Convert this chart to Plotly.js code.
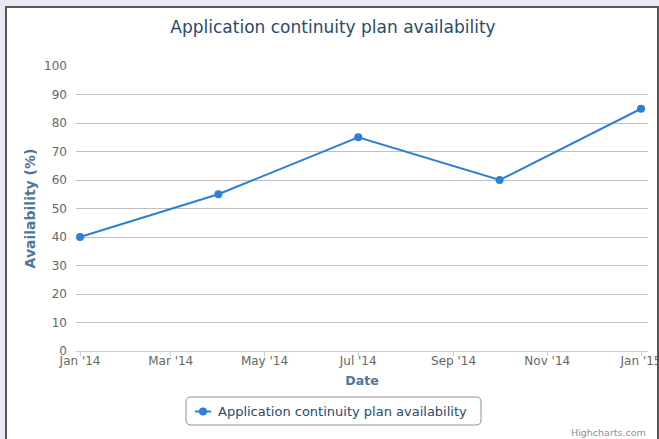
<!DOCTYPE html>
<html>
<head>
<meta charset="utf-8">
<script src="https://cdn.plot.ly/plotly-3.0.1.min.js"></script>
<style>
  html, body { margin: 0; padding: 0; background: #e9e9f3; overflow: hidden; }
  #frame { position: absolute; left: 5px; top: 6px; width: 650px; height: 480px;
           border: 2px solid #555; border-bottom: none; background: #fff; overflow: hidden; }
  #chart { position: absolute; left: -7px; top: -8px; width: 700px; height: 439px; }
</style>
</head>
<body>
<div id="frame"><div id="chart"></div></div>
<script>
// ---- data ----
const dates = ['2014-01-01', '2014-04-01', '2014-07-01', '2014-10-01', '2015-01-01'];
const availability = [40, 55, 75, 60, 85];
const seriesName = 'Application continuity plan availability';
const chartTitle = 'Application continuity plan availability';
const xTitle = 'Date';
const yTitle = 'Availability (%)';
const yTicks = [0, 10, 20, 30, 40, 50, 60, 70, 80, 90, 100];
const creditText = 'Highcharts.com';

// ---- layout geometry (pixels in the 700x439 plot div) ----
const W = 700, H = 439;
const L = 76, R = 648, T = 66, B = 351;
const pw = R - L, ph = B - T;
const px2x = p => (p - L) / pw;
const px2y = p => (B - p) / ph;

function roundRect(x0, y0, x1, y1, r) {
  const X = px2x, Y = px2y;
  return 'M' + X(x0 + r) + ',' + Y(y0) +
    ' L' + X(x1 - r) + ',' + Y(y0) +
    ' Q' + X(x1) + ',' + Y(y0) + ' ' + X(x1) + ',' + Y(y0 + r) +
    ' L' + X(x1) + ',' + Y(y1 - r) +
    ' Q' + X(x1) + ',' + Y(y1) + ' ' + X(x1 - r) + ',' + Y(y1) +
    ' L' + X(x0 + r) + ',' + Y(y1) +
    ' Q' + X(x0) + ',' + Y(y1) + ' ' + X(x0) + ',' + Y(y1 - r) +
    ' L' + X(x0) + ',' + Y(y0 + r) +
    ' Q' + X(x0) + ',' + Y(y0) + ' ' + X(x0 + r) + ',' + Y(y0) + ' Z';
}

const font = 'DejaVu Sans, Verdana, sans-serif';
const blue = '#2f7ed8';

const trace = {
  x: dates, y: availability, name: seriesName,
  type: 'scatter', mode: 'lines+markers',
  line: { color: blue, width: 2 },
  marker: { color: blue, size: 8 },
  showlegend: false
};

// legend (drawn as a Highcharts-style rounded box)
const legY = 411.5;
const legendShapes = [
  { type: 'path', xref: 'paper', yref: 'paper', path: roundRect(186, 397, 481, 425, 5),
    line: { color: '#909090', width: 1 }, fillcolor: 'rgba(0,0,0,0)' },
  { type: 'line', xref: 'paper', yref: 'paper', x0: px2x(195), x1: px2x(211), y0: px2y(legY), y1: px2y(legY),
    line: { color: blue, width: 2 } },
  { type: 'circle', xref: 'paper', yref: 'paper', x0: px2x(199), x1: px2x(207), y0: px2y(legY - 4), y1: px2y(legY + 4),
    line: { color: blue, width: 0 }, fillcolor: blue }
];

const layout = {
  width: W, height: H,
  margin: { l: L, r: W - R, t: T, b: H - B, pad: 0 },
  paper_bgcolor: 'rgba(0,0,0,0)', plot_bgcolor: 'rgba(0,0,0,0)',
  font: { family: font, color: '#666', size: 12 },
  title: { text: chartTitle, font: { family: font, size: 17, color: '#274b6d' },
           x: 333 / W, xref: 'container', xanchor: 'center', y: 1 - 27 / H, yref: 'container', yanchor: 'middle' },
  xaxis: {
    type: 'date',
    range: ['2013-12-29 09:00', '2015-01-05 13:00'],
    tickmode: 'linear', tick0: '2014-01-01', dtick: 'M2',
    tickformat: "%b '%y",
    ticks: 'outside', ticklen: 4, tickcolor: '#C0D0E0', tickwidth: 1,
    ticklabelstandoff: -5,
    showline: true, linecolor: '#C0D0E0', linewidth: 1,
    showgrid: false, zeroline: false,
    tickfont: { family: font, size: 12, color: '#666' },
    title: { text: '<b>' + xTitle + '</b>', font: { family: font, size: 12.5, color: '#4d759e' }, standoff: 8 },
    fixedrange: true
  },
  yaxis: {
    range: [0, 100], tickmode: 'array', tickvals: yTicks,
    showgrid: true, gridcolor: '#C0C0C0', gridwidth: 1,
    zeroline: false, showline: false, ticks: '',
    ticklabelstandoff: 8,
    tickfont: { family: font, size: 12, color: '#666' },
    title: { text: '<b>' + yTitle + '</b>', font: { family: font, size: 14, color: '#4d759e' }, standoff: 5 },
    fixedrange: true
  },
  showlegend: false,
  shapes: legendShapes,
  annotations: [
    { text: seriesName, xref: 'paper', yref: 'paper', x: px2x(216), y: px2y(legY),
      xanchor: 'left', yanchor: 'middle', showarrow: false,
      font: { family: font, size: 13, color: '#274b6d' } },
    { text: creditText, xref: 'paper', yref: 'paper', x: 1, y: px2y(432),
      xanchor: 'right', yanchor: 'middle', showarrow: false,
      font: { family: font, size: 9.5, color: '#909090' } }
  ]
};

Plotly.newPlot('chart', [trace], layout, { displayModeBar: false, staticPlot: true });
</script>
</body>
</html>
